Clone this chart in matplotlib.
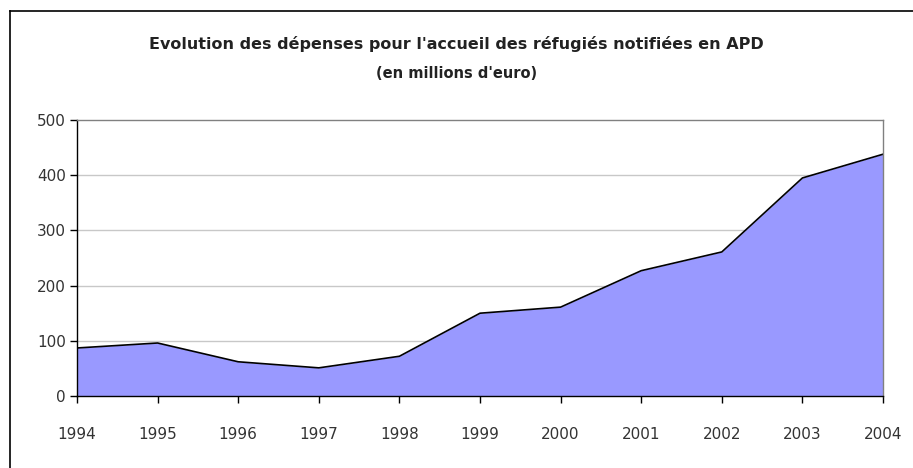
import matplotlib.pyplot as plt
from matplotlib.lines import Line2D

# données (millions d'euros)
annees = [1994, 1995, 1996, 1997, 1998, 1999, 2000, 2001, 2002, 2003, 2004]
depenses = [87, 96, 62, 51, 72, 150, 161, 227, 261, 395, 438]
yticks = [0, 100, 200, 300, 400, 500]

fig = plt.figure(figsize=(9.13, 4.68), dpi=100)
ax = fig.add_axes([77/913, 1 - 396/468, (883 - 77)/913, (396 - 120)/468])

# aire + contour
ax.fill_between(annees, depenses, 0, color='#9999ff', lw=0, zorder=2)
ax.plot(annees, depenses, color='black', lw=1.2, zorder=3)

ax.set_xlim(1994, 2004)
ax.set_ylim(0, 500)
ax.set_xticks(annees)
ax.set_yticks(yticks)

# grille horizontale
for v in yticks[1:-1]:
    ax.axhline(v, color='#c8c8c8', lw=1, zorder=1)

ax.spines['left'].set_color('black')
ax.spines['bottom'].set_color('black')
ax.spines['top'].set_color('#808080')
ax.spines['right'].set_color('#808080')
for s in ax.spines.values():
    s.set_linewidth(1)
    s.set_zorder(4)

ax.tick_params(axis='y', direction='out', length=5, pad=3, labelsize=11,
               labelcolor='#333333', width=1)
ax.tick_params(axis='x', direction='out', length=5, pad=17, labelsize=11,
               labelcolor='#333333', width=1)

# titre
fig.text(0.5, 1 - 44/468, "Evolution des dépenses pour l'accueil des réfugiés notifiées en APD",
         ha='center', va='center', fontsize=11.5, fontweight='bold', color='#222222')
fig.text(0.5, 1 - 74/468, "(en millions d'euro)",
         ha='center', va='center', fontsize=10.5, fontweight='bold', color='#222222')

# cadre autour du graphique
fig.add_artist(Line2D([10/913, 10/913], [0, 1 - 11/468], color='black', lw=1.2,
                      transform=fig.transFigure))
fig.add_artist(Line2D([10/913, 1], [1 - 11/468, 1 - 11/468], color='black', lw=1.2,
                      transform=fig.transFigure))

fig.savefig('out.png', dpi=100)
